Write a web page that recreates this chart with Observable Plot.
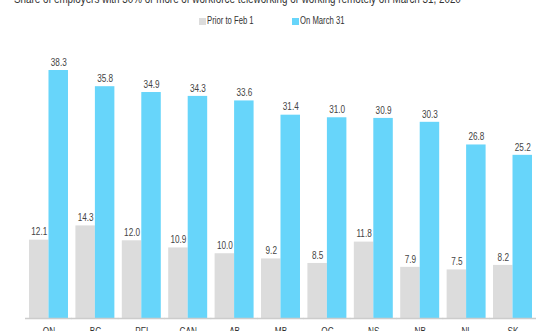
<!DOCTYPE html>
<html>
<head>
<meta charset="utf-8">
<script src="https://cdn.jsdelivr.net/npm/d3@7"></script>
<script src="https://cdn.jsdelivr.net/npm/@observablehq/plot@0.6"></script>
<style>
  html, body { margin: 0; padding: 0; background: #fff; overflow: hidden; }
  body { width: 550px; height: 331px; position: relative; font-family: "Liberation Sans", Arial, sans-serif; }
  .narrow { position: absolute; white-space: nowrap; transform: scaleX(0.82); transform-origin: 0 0; }
  #title { left: 14px; top: -7px; font-size: 12px; line-height: 12px; color: #333; }
  .legend-text { font-size: 10px; line-height: 10px; top: 15.5px; color: #333; transform: scaleX(0.77); }
  .sw { position: absolute; top: 18px; width: 6.5px; height: 6.5px; }
  #chart { position: absolute; left: 0; top: 34px; }
</style>
</head>
<body>
<div id="title" class="narrow">Share of employers with 30% or more of workforce teleworking or working remotely on March 31, 2020</div>
<div id="legend"></div>
<div id="chart"></div>
<script>
// Provinces, ordered by share teleworking on March 31
const provinces = ["ON", "BC", "PEI", "CAN", "AB", "MB", "QC", "NS", "NB", "NL", "SK"];
const series = ["Prior to Feb 1", "On March 31"];
const priorFeb1 = [12.1, 14.3, 12.0, 10.9, 10.0, 9.2, 8.5, 11.8, 7.9, 7.5, 8.2];
const onMarch31 = [38.3, 35.8, 34.9, 34.3, 33.6, 31.4, 31.0, 30.9, 30.3, 26.8, 25.2];
const colors = ["#dcdcdc", "#67d5fa"];

const rows = provinces.flatMap((p, i) => [
  {prov: p, series: series[0], value: priorFeb1[i]},
  {prov: p, series: series[1], value: onMarch31[i]}
]);

// legend: swatch + label for each series
const legend = document.getElementById("legend");
const legendX = [199, 292];
series.forEach((s, i) => {
  const sw = document.createElement("div");
  sw.className = "sw";
  sw.style.left = legendX[i] + "px";
  sw.style.background = colors[i];
  legend.appendChild(sw);
  const t = document.createElement("div");
  t.className = "narrow legend-text";
  t.style.left = (legendX[i] + 8) + "px";
  t.textContent = s;
  legend.appendChild(t);
});

const chart = Plot.plot({
  width: 550,
  height: 300,
  marginTop: 25,
  marginBottom: 16,
  marginLeft: 29,
  marginRight: 18,
  style: {fontFamily: "Liberation Sans, Arial, sans-serif", fontSize: "10px", color: "#333"},
  fx: {domain: provinces, padding: 0.16, round: false, label: null, axis: "bottom", tickSize: 0, tickPadding: 9},
  x: {domain: series, padding: 0, round: false, axis: null},
  y: {domain: [0, 40], axis: null},
  color: {domain: series, range: colors},
  marks: [
    Plot.barY(rows, {fx: "prov", x: "series", y: "value", fill: "series"}),
    Plot.text(rows, {fx: "prov", x: "series", y: "value", text: d => d.value.toFixed(1), dy: -8, fill: "#444", fontSize: 10}),
    // baseline, extended across the gaps between province groups
    Plot.ruleY([0], {stroke: "#cccccc", strokeWidth: 1.5, insetLeft: -4, insetRight: -4})
  ]
});

// condense all chart text horizontally around its anchor
chart.querySelectorAll("text").forEach(el => {
  const tr = el.getAttribute("transform");
  if (tr) {
    el.setAttribute("transform", tr + " scale(0.82,1)");
  } else {
    const x = +(el.getAttribute("x") || 0);
    el.setAttribute("transform", `translate(${x},0) scale(0.82,1) translate(${-x},0)`);
  }
});
document.getElementById("chart").appendChild(chart);
</script>
</body>
</html>
